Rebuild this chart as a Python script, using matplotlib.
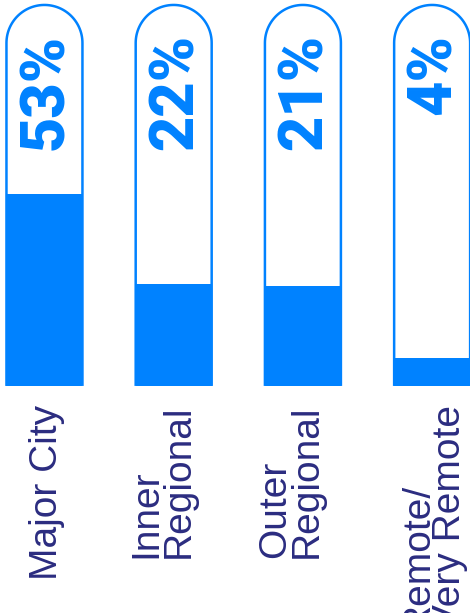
import numpy as np
import matplotlib.pyplot as plt
from matplotlib.patches import Polygon

categories = ["Major City", "Inner\nRegional", "Outer\nRegional", "Remote/\nVery Remote"]
percent_labels = ["53%", "22%", "21%", "4%"]
# fill level of each pill (share of pill height)
fill_level = [0.504, 0.268, 0.262, 0.073]

BLUE = "#0082FF"
NAVY = "#2B2C80"

fig = plt.figure(figsize=(4.7, 6.13), dpi=100)
ax = fig.add_axes([0, 0, 1, 1])
ax.set_xlim(-0.344, 3.293)
ax.set_ylim(-0.596, 1.013)
ax.axis("off")

width = 0.588
# pixel scale so the rounded top stays circular
px_x = 470 / (3.293 + 0.344)
px_y = 613 / (1.013 + 0.596)
rx = width / 2
ry = rx * px_x / px_y

x = np.arange(len(categories))

# filled part of each pill
ax.bar(x, fill_level, width=width, color=BLUE, zorder=2)

# pill outlines
t = np.linspace(0, np.pi, 60)
for i in x:
    side = 1 - ry
    pts = [(i + rx, 0), (i + rx, side)]
    pts += list(zip(i + rx * np.cos(t), side + ry * np.sin(t)))
    pts += [(i - rx, side), (i - rx, 0)]
    ax.add_patch(Polygon(pts, closed=False, fill=False, edgecolor=BLUE,
                         lw=1.8, joinstyle="round", zorder=3))

# percentage labels inside the pills
for i, lab in zip(x, percent_labels):
    ax.text(i + 0.015, 0.925, lab, rotation=90, ha="center", va="top",
            color=BLUE, fontsize=44, fontweight="black", family="Roboto")

# category labels below
label_shift = [0.02, -0.085, -0.09, 0.015]
for i, lab, dx in zip(x, categories, label_shift):
    ax.text(i + dx, -0.05, lab, rotation=90, ha="center", va="top",
            multialignment="left", linespacing=0.85,
            color=NAVY, fontsize=28, family="Liberation Sans")

fig.savefig("out.png", dpi=100)
